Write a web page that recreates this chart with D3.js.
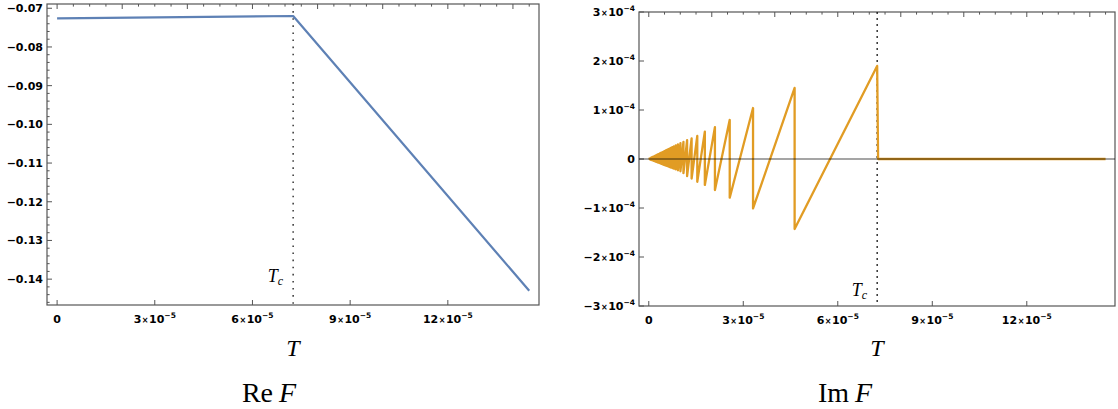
<!DOCTYPE html>
<html>
<head>
<meta charset="utf-8">
<script src="https://d3js.org/d3.v7.min.js"></script>
<style>
  body { margin: 0; background: #fff; }
  svg { display: block; }
  .lbl { font-family: "DejaVu Sans", sans-serif; font-weight: bold; font-size: 11px; fill: #000; }
  .math { font-family: "Liberation Serif", "DejaVu Serif", serif; fill: #000; }
</style>
</head>
<body>
<div id="chart"></div>
<script>
// ---------- data (T in units of 1e-5, Im F in units of 1e-4) ----------
var T_C = 7.25;
var T_END = 14.5;

// Re F, straight pieces
var reT = [0, 7.25, 14.5];
var reF = [-0.0726, -0.0720, -0.1430];

// Im F sawtooth: at each dropT the curve falls from +peakV to -troughV
var dropT = [0.03, 0.06, 0.09, 0.12, 0.15, 0.18, 0.21, 0.24, 0.27, 0.30, 0.33,
             0.367, 0.379, 0.392, 0.406, 0.420, 0.436, 0.453, 0.472, 0.492, 0.514,
             0.538, 0.564, 0.593, 0.625, 0.661, 0.701, 0.746, 0.797, 0.857, 0.925,
             1.006, 1.101, 1.217, 1.36, 1.54, 1.78, 2.10, 2.57, 3.31, 4.63];
var peakV = [0.012, 0.022, 0.031, 0.040, 0.050, 0.059, 0.068, 0.078, 0.087, 0.097, 0.106,
             0.118, 0.122, 0.127, 0.131, 0.136, 0.141, 0.146, 0.152, 0.159, 0.166,
             0.174, 0.182, 0.191, 0.202, 0.213, 0.226, 0.240, 0.256, 0.276, 0.298,
             0.323, 0.350, 0.385, 0.42, 0.47, 0.56, 0.65, 0.80, 1.04, 1.45];
var troughV = [0.007, 0.015, 0.022, 0.030, 0.037, 0.045, 0.052, 0.059, 0.067, 0.074, 0.081,
             0.090, 0.093, 0.097, 0.100, 0.104, 0.108, 0.112, 0.117, 0.122, 0.127,
             0.133, 0.140, 0.147, 0.155, 0.164, 0.174, 0.185, 0.198, 0.213, 0.230,
             0.250, 0.290, 0.350, 0.40, 0.465, 0.53, 0.635, 0.79, 1.01, 1.43];
var imPeakAtTc = 1.90;

// ticks
var xTicks = [0, 3, 6, 9, 12];
var xTickLabels = [["0"], ["3", "\u22125"], ["6", "\u22125"], ["9", "\u22125"], ["12", "\u22125"]];
var reTicks = [-0.07, -0.08, -0.09, -0.10, -0.11, -0.12, -0.13, -0.14];
var reTickLabels = ["\u22120.07", "\u22120.08", "\u22120.09", "\u22120.10", "\u22120.11", "\u22120.12", "\u22120.13", "\u22120.14"];
var imTicks = [-3, -2, -1, 0, 1, 2, 3];
var imTickLabels = [["\u22123", "\u22124"], ["\u22122", "\u22124"], ["\u22121", "\u22124"], ["0"], ["1", "\u22124"], ["2", "\u22124"], ["3", "\u22124"]];

// ---------- layout ----------
var W = 1118, H = 409;
var blue = "#5E81B5", orange = "#E19C24", frameCol = "#555";
var xDomain = [-0.31, 14.8];
var L = { x0: 47, x1: 539, y0: 4, y1: 305 };
var R = { x0: 639, x1: 1115, y0: 12, y1: 306 };

var svg = d3.select("#chart").append("svg").attr("width", W).attr("height", H);

var xL = d3.scaleLinear().domain(xDomain).range([L.x0, L.x1]);
var yL = d3.scaleLinear().domain([-0.14668, -0.0689]).range([L.y1, L.y0]);
var xR = d3.scaleLinear().domain(xDomain).range([R.x0, R.x1]);
var yR = d3.scaleLinear().domain([-3, 3]).range([R.y1, R.y0]);

function clip(id, b) {
    svg.append("clipPath").attr("id", id).append("rect")
        .attr("x", b.x0).attr("y", b.y0).attr("width", b.x1 - b.x0).attr("height", b.y1 - b.y0);
}
clip("clipL", L);
clip("clipR", R);

// label with mantissa x 10^exp
function sciText(sel, parts) {
    sel.append("tspan").text(parts[0]);
    if (parts.length > 1) {
        sel.append("tspan").attr("font-size", "8px").attr("dx", 0.5).text("\u00d7");
        sel.append("tspan").attr("dx", 0.5).text("10");
        sel.append("tspan").attr("font-size", "7.5px").attr("dy", -5).text(parts[1]);
    }
}

function frame(b, x, y) {
    var g = svg.append("g");
    g.append("rect")
        .attr("x", b.x0).attr("y", b.y0)
        .attr("width", b.x1 - b.x0).attr("height", b.y1 - b.y0)
        .attr("fill", "none").attr("stroke", frameCol).attr("stroke-width", 1.2);

    // top: automatic ticks, no labels
    var topMinor = d3.range(0, 14.8, 0.5).filter(function (d) { return d % 2 !== 0; });
    var topMajor = d3.range(0, 14.8, 2);
    g.selectAll(".tmin").data(topMinor).enter().append("line")
        .attr("x1", x).attr("x2", x).attr("y1", b.y0).attr("y2", b.y0 + 2.6)
        .attr("stroke", frameCol).attr("stroke-width", 1);
    g.selectAll(".tmaj").data(topMajor).enter().append("line")
        .attr("x1", x).attr("x2", x).attr("y1", b.y0).attr("y2", b.y0 + 5)
        .attr("stroke", frameCol).attr("stroke-width", 1);

    // bottom ticks and labels
    g.selectAll(".bmaj").data(xTicks).enter().append("line")
        .attr("x1", x).attr("x2", x).attr("y1", b.y1).attr("y2", b.y1 - 5)
        .attr("stroke", frameCol).attr("stroke-width", 1);
    g.selectAll(".blab").data(xTicks).enter().append("text")
        .attr("class", "lbl")
        .attr("x", x).attr("y", b.y1 + 18)
        .attr("text-anchor", "middle")
        .each(function (d, i) { sciText(d3.select(this), xTickLabels[i]); });

    // axis title T
    svg.append("text").attr("class", "math")
        .attr("x", (b.x0 + b.x1) / 2).attr("y", 356)
        .attr("text-anchor", "middle").attr("font-size", "24px")
        .attr("font-style", "italic").text("T");
    return g;
}

// ---------- Re F panel ----------
var gL = frame(L, xL, yL);
var reMinor = d3.range(-0.146, -0.0689, 0.002).filter(function (d) {
    return Math.abs(Math.round(d * 100) - d * 100) > 0.05;
});
gL.selectAll(".lmin").data(reMinor).enter().append("line")
    .attr("x1", L.x0).attr("x2", L.x0 + 2.6).attr("y1", yL).attr("y2", yL)
    .attr("stroke", frameCol).attr("stroke-width", 1);
gL.selectAll(".lmaj").data(reTicks).enter().append("line")
    .attr("x1", L.x0).attr("x2", L.x0 + 5).attr("y1", yL).attr("y2", yL)
    .attr("stroke", frameCol).attr("stroke-width", 1);
gL.selectAll(".llab").data(reTicks).enter().append("text")
    .attr("class", "lbl")
    .attr("x", L.x0 - 4).attr("y", function (d) { return yL(d) + 4; })
    .attr("text-anchor", "end")
    .text(function (d, i) { return reTickLabels[i]; });

// T_c marker
svg.append("line")
    .attr("x1", xL(T_C)).attr("x2", xL(T_C)).attr("y1", L.y0).attr("y2", L.y1)
    .attr("stroke", "#444").attr("stroke-width", 1.6).attr("stroke-dasharray", "1.6,5.5");
var tcL = svg.append("text").attr("class", "math")
    .attr("x", xL(T_C) - 10).attr("y", 282).attr("text-anchor", "end")
    .attr("font-style", "italic").attr("font-size", "18px");
tcL.append("tspan").text("T");
tcL.append("tspan").attr("font-size", "12px").attr("dy", 3).text("c");

var reData = reT.map(function (t, i) { return { t: t, v: reF[i] }; });
svg.append("path")
    .datum(reData)
    .attr("clip-path", "url(#clipL)")
    .attr("fill", "none").attr("stroke", blue).attr("stroke-width", 2.2)
    .attr("stroke-linejoin", "round")
    .attr("d", d3.line().x(function (d) { return xL(d.t); }).y(function (d) { return yL(d.v); }));

// ---------- Im F panel ----------
var gR = frame(R, xR, yR);
gR.selectAll(".rmaj").data(imTicks).enter().append("line")
    .attr("x1", R.x0).attr("x2", R.x0 + 5).attr("y1", yR).attr("y2", yR)
    .attr("stroke", frameCol).attr("stroke-width", 1);
gR.selectAll(".rlab").data(imTicks).enter().append("text")
    .attr("class", "lbl")
    .attr("x", R.x0 - 4).attr("y", function (d) { return yR(d) + 4; })
    .attr("text-anchor", "end")
    .each(function (d, i) { sciText(d3.select(this), imTickLabels[i]); });

svg.append("line")
    .attr("x1", xR(T_C)).attr("x2", xR(T_C)).attr("y1", R.y0).attr("y2", R.y1)
    .attr("stroke", "#000").attr("stroke-width", 1.2).attr("stroke-dasharray", "2,4");
var tcR = svg.append("text").attr("class", "math")
    .attr("x", xR(T_C) - 10).attr("y", 296).attr("text-anchor", "end")
    .attr("font-style", "italic").attr("font-size", "18px");
tcR.append("tspan").text("T");
tcR.append("tspan").attr("font-size", "12px").attr("dy", 3).text("c");

// build the sawtooth vertices from the tooth tables
var imData = [{ t: 0, v: 0 }];
dropT.forEach(function (t, i) {
    imData.push({ t: t, v: peakV[i] });
    imData.push({ t: t, v: -troughV[i] });
});
imData.push({ t: T_C, v: imPeakAtTc });
imData.push({ t: T_C + 0.03, v: 0 });
imData.push({ t: T_END, v: 0 });

svg.append("path")
    .datum(imData)
    .attr("clip-path", "url(#clipR)")
    .attr("fill", "none").attr("stroke", orange).attr("stroke-width", 2.3)
    .attr("stroke-linejoin", "round")
    .attr("d", d3.line().x(function (d) { return xR(d.t); }).y(function (d) { return yR(d.v); }));

// zero axis drawn over the data
svg.append("line")
    .attr("x1", R.x0).attr("x2", R.x1).attr("y1", yR(0)).attr("y2", yR(0))
    .attr("stroke", "#000").attr("stroke-opacity", 0.7).attr("stroke-width", 1.1);

// ---------- panel titles ----------
function title(x, name) {
    var t = svg.append("text").attr("class", "math")
        .attr("x", x).attr("y", 402).attr("text-anchor", "middle").attr("font-size", "28px");
    t.append("tspan").text(name);
    t.append("tspan").attr("dx", 6).attr("font-style", "italic").text("F");
}
title(269, "Re");
title(845, "Im");
</script>
</body>
</html>
